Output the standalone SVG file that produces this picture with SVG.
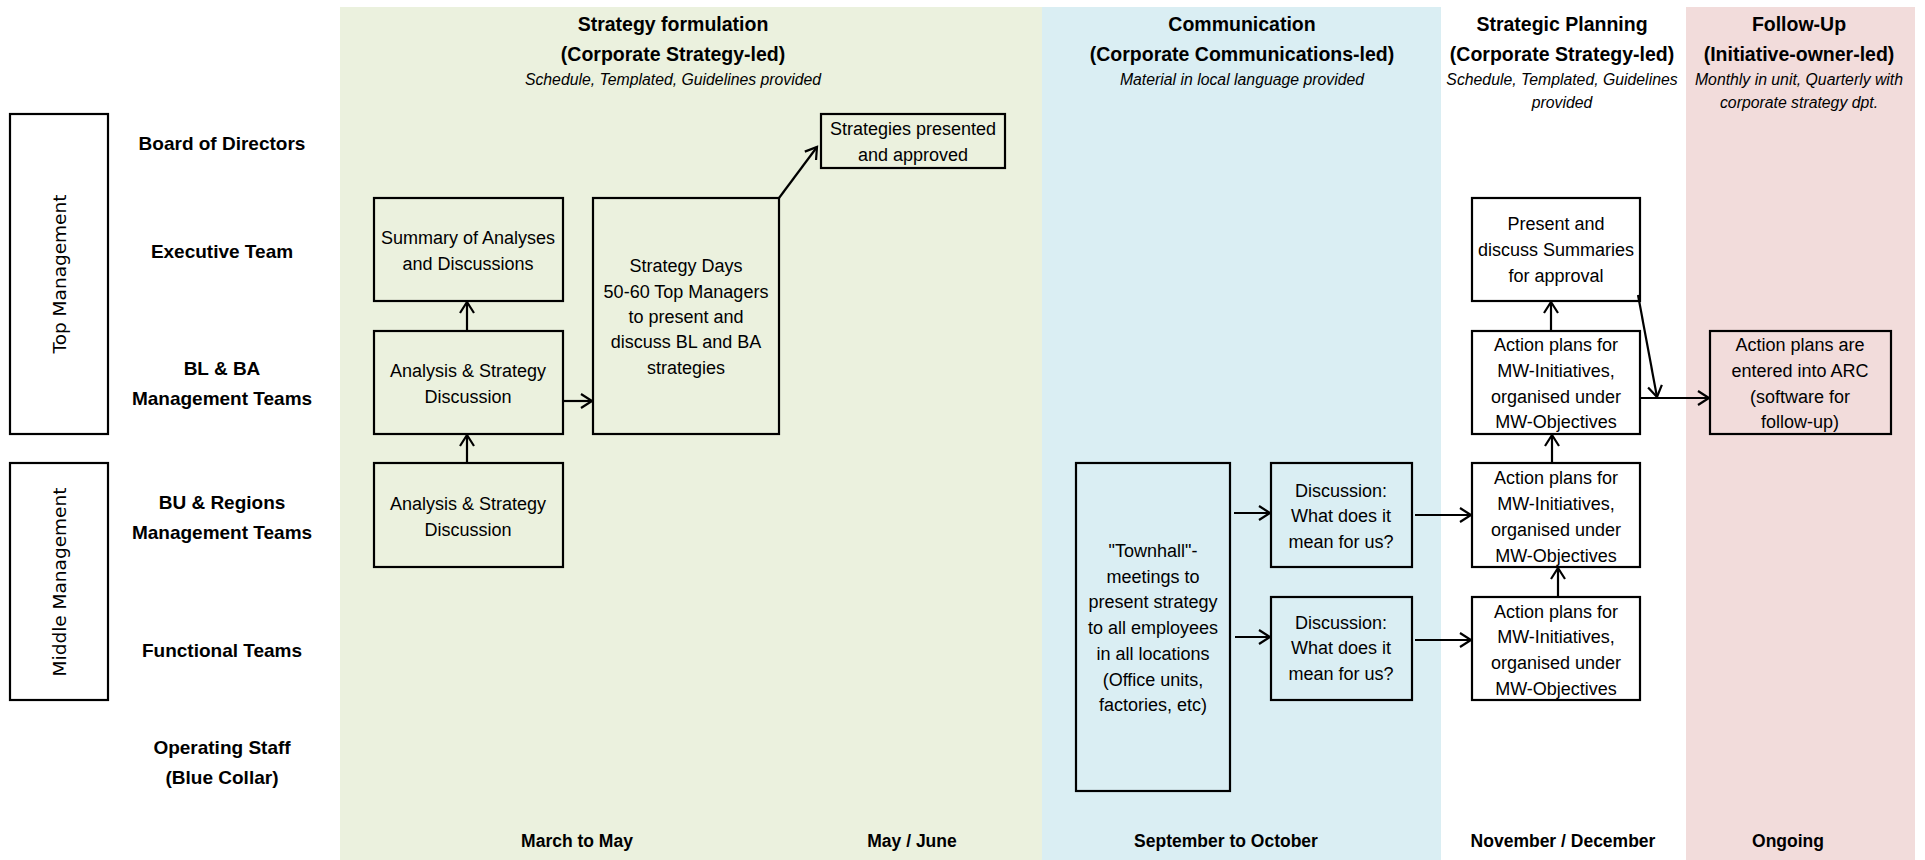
<svg xmlns="http://www.w3.org/2000/svg" width="1925" height="860" viewBox="0 0 1925 860">
  <defs>
    <style>
      .band-green { fill: #EBF1DE; }
      .band-blue { fill: #DAEEF3; }
      .band-pink { fill: #F2DCDB; }
      .box { fill: none; stroke: #000; stroke-width: 2.2; }
      .cat { fill: #fff; stroke: #000; stroke-width: 2.2; }
      .lbl { font-family: "Liberation Sans", Arial, sans-serif; font-size: 18px; fill: #000; text-anchor: middle; }
      .row { font-family: "Liberation Sans", Arial, sans-serif; font-size: 19px; font-weight: bold; fill: #000; text-anchor: middle; }
      .head { font-family: "Liberation Sans", Arial, sans-serif; font-size: 19.5px; font-weight: bold; fill: #000; text-anchor: middle; }
      .sub { font-family: "Liberation Sans", Arial, sans-serif; font-size: 15.8px; font-style: italic; fill: #000; text-anchor: middle; }
      .when { font-family: "Liberation Sans", Arial, sans-serif; font-size: 17.5px; font-weight: bold; fill: #000; text-anchor: middle; }
      .vert { font-family: "DejaVu Sans", Verdana, sans-serif; font-size: 18.5px; fill: #000; text-anchor: middle; }
      .conn { fill: none; stroke: #000; stroke-width: 2.2; marker-end: url(#arrow); }
    </style>
    <marker id="arrow" viewBox="-13 -9 16 18" markerWidth="16" markerHeight="18" refX="0" refY="0" orient="auto" markerUnits="userSpaceOnUse">
      <path d="M-11,-7 L0,0 L-11,7" fill="none" stroke="#000" stroke-width="2.2"/>
    </marker>
  </defs>

  <rect width="1925" height="860" fill="#fff"/>

  <!-- phase bands -->
  <g id="bands">
    <rect class="band-green" x="340" y="7" width="702" height="853"/>
    <rect class="band-blue" x="1042" y="7" width="399" height="853"/>
    <rect class="band-pink" x="1686" y="7" width="229" height="853"/>
  </g>

  <!-- phase headers -->
  <g id="headers">
    <text class="head" x="673" y="31">Strategy formulation</text>
    <text class="head" x="673" y="61">(Corporate Strategy-led)</text>
    <text class="sub" x="673" y="85">Schedule, Templated, Guidelines provided</text>

    <text class="head" x="1242" y="31">Communication</text>
    <text class="head" x="1242" y="61">(Corporate Communications-led)</text>
    <text class="sub" x="1242" y="85">Material in local language provided</text>

    <text class="head" x="1562" y="31">Strategic Planning</text>
    <text class="head" x="1562" y="61">(Corporate Strategy-led)</text>
    <text class="sub" x="1562" y="85">Schedule, Templated, Guidelines</text>
    <text class="sub" x="1562" y="108">provided</text>

    <text class="head" x="1799" y="31">Follow-Up</text>
    <text class="head" x="1799" y="61">(Initiative-owner-led)</text>
    <text class="sub" x="1799" y="85">Monthly in unit, Quarterly with</text>
    <text class="sub" x="1799" y="108">corporate strategy dpt.</text>
  </g>

  <!-- timing labels -->
  <g id="timing">
    <text class="when" x="577" y="847">March to May</text>
    <text class="when" x="912" y="847">May / June</text>
    <text class="when" x="1226" y="847">September to October</text>
    <text class="when" x="1563" y="847">November / December</text>
    <text class="when" x="1788" y="847">Ongoing</text>
  </g>

  <!-- management levels -->
  <g id="level-top">
    <rect class="cat" x="10" y="114" width="98" height="320"/>
    <text class="vert" x="66" y="274" transform="rotate(-90 66 274)">Top Management</text>
  </g>
  <g id="level-middle">
    <rect class="cat" x="10" y="463" width="98" height="237"/>
    <text class="vert" x="66" y="582" transform="rotate(-90 66 582)">Middle Management</text>
  </g>

  <!-- organisational rows -->
  <g id="rows">
    <text class="row" x="222" y="150">Board of Directors</text>
    <text class="row" x="222" y="258">Executive Team</text>
    <text class="row" x="222" y="375">BL &amp; BA</text>
    <text class="row" x="222" y="405">Management Teams</text>
    <text class="row" x="222" y="509">BU &amp; Regions</text>
    <text class="row" x="222" y="539">Management Teams</text>
    <text class="row" x="222" y="657">Functional Teams</text>
    <text class="row" x="222" y="754">Operating Staff</text>
    <text class="row" x="222" y="784">(Blue Collar)</text>
  </g>

  <!-- strategy formulation -->
  <g id="summary">
    <rect class="box" x="374" y="198" width="189" height="103"/>
    <text class="lbl" x="468" y="244">Summary of Analyses</text>
    <text class="lbl" x="468" y="270">and Discussions</text>
  </g>
  <g id="analysis-bl">
    <rect class="box" x="374" y="331" width="189" height="103"/>
    <text class="lbl" x="468" y="377">Analysis &amp; Strategy</text>
    <text class="lbl" x="468" y="403">Discussion</text>
  </g>
  <g id="analysis-bu">
    <rect class="box" x="374" y="463" width="189" height="104"/>
    <text class="lbl" x="468" y="510">Analysis &amp; Strategy</text>
    <text class="lbl" x="468" y="536">Discussion</text>
  </g>
  <g id="strategy-days">
    <rect class="box" x="593" y="198" width="186" height="236"/>
    <text class="lbl" x="686" y="272">Strategy Days</text>
    <text class="lbl" x="686" y="298">50-60 Top Managers</text>
    <text class="lbl" x="686" y="323">to present and</text>
    <text class="lbl" x="686" y="348">discuss BL and BA</text>
    <text class="lbl" x="686" y="374">strategies</text>
  </g>
  <g id="approved">
    <rect class="box" x="821" y="114" width="184" height="54"/>
    <text class="lbl" x="913" y="135">Strategies presented</text>
    <text class="lbl" x="913" y="161">and approved</text>
  </g>

  <!-- communication -->
  <g id="townhall">
    <rect class="box" x="1076" y="463" width="154" height="328"/>
    <text class="lbl" x="1153" y="557">"Townhall"-</text>
    <text class="lbl" x="1153" y="583">meetings to</text>
    <text class="lbl" x="1153" y="608">present strategy</text>
    <text class="lbl" x="1153" y="634">to all employees</text>
    <text class="lbl" x="1153" y="660">in all locations</text>
    <text class="lbl" x="1153" y="686">(Office units,</text>
    <text class="lbl" x="1153" y="711">factories, etc)</text>
  </g>
  <g id="discussion-bu">
    <rect class="box" x="1271" y="463" width="141" height="104"/>
    <text class="lbl" x="1341" y="497">Discussion:</text>
    <text class="lbl" x="1341" y="522">What does it</text>
    <text class="lbl" x="1341" y="548">mean for us?</text>
  </g>
  <g id="discussion-func">
    <rect class="box" x="1271" y="597" width="141" height="103"/>
    <text class="lbl" x="1341" y="629">Discussion:</text>
    <text class="lbl" x="1341" y="654">What does it</text>
    <text class="lbl" x="1341" y="680">mean for us?</text>
  </g>

  <!-- strategic planning -->
  <g id="present-summaries">
    <rect class="box" x="1472" y="198" width="168" height="103" fill="#fff"/>
    <text class="lbl" x="1556" y="230">Present and</text>
    <text class="lbl" x="1556" y="256">discuss Summaries</text>
    <text class="lbl" x="1556" y="282">for approval</text>
  </g>
  <g id="action-bl">
    <rect class="box" x="1472" y="331" width="168" height="103"/>
    <text class="lbl" x="1556" y="351">Action plans for</text>
    <text class="lbl" x="1556" y="377">MW-Initiatives,</text>
    <text class="lbl" x="1556" y="403">organised under</text>
    <text class="lbl" x="1556" y="428">MW-Objectives</text>
  </g>
  <g id="action-bu">
    <rect class="box" x="1472" y="463" width="168" height="104"/>
    <text class="lbl" x="1556" y="484">Action plans for</text>
    <text class="lbl" x="1556" y="510">MW-Initiatives,</text>
    <text class="lbl" x="1556" y="536">organised under</text>
    <text class="lbl" x="1556" y="562">MW-Objectives</text>
  </g>
  <g id="action-func">
    <rect class="box" x="1472" y="597" width="168" height="103"/>
    <text class="lbl" x="1556" y="618">Action plans for</text>
    <text class="lbl" x="1556" y="643">MW-Initiatives,</text>
    <text class="lbl" x="1556" y="669">organised under</text>
    <text class="lbl" x="1556" y="695">MW-Objectives</text>
  </g>

  <!-- follow-up -->
  <g id="arc">
    <rect class="box" x="1710" y="331" width="181" height="103"/>
    <text class="lbl" x="1800" y="351">Action plans are</text>
    <text class="lbl" x="1800" y="377">entered into ARC</text>
    <text class="lbl" x="1800" y="403">(software for</text>
    <text class="lbl" x="1800" y="428">follow-up)</text>
  </g>

  <!-- connectors -->
  <g id="connectors">
    <path class="conn" d="M467,463 L467,435"/>
    <path class="conn" d="M467,331 L467,302"/>
    <path class="conn" d="M563,401 L592,401"/>
    <path class="conn" d="M779,198 L817,147"/>
    <path class="conn" d="M1234,513 L1270,513"/>
    <path class="conn" d="M1235,637 L1270,637"/>
    <path class="conn" d="M1415,515 L1471,515"/>
    <path class="conn" d="M1415,640 L1471,640"/>
    <path class="conn" d="M1558,597 L1558,568"/>
    <path class="conn" d="M1552,463 L1552,435"/>
    <path class="conn" d="M1551,331 L1551,302"/>
    <path class="conn" d="M1638,295 L1657,397"/>
    <path class="conn" d="M1640,398 L1709,398"/>
  </g>
</svg>
